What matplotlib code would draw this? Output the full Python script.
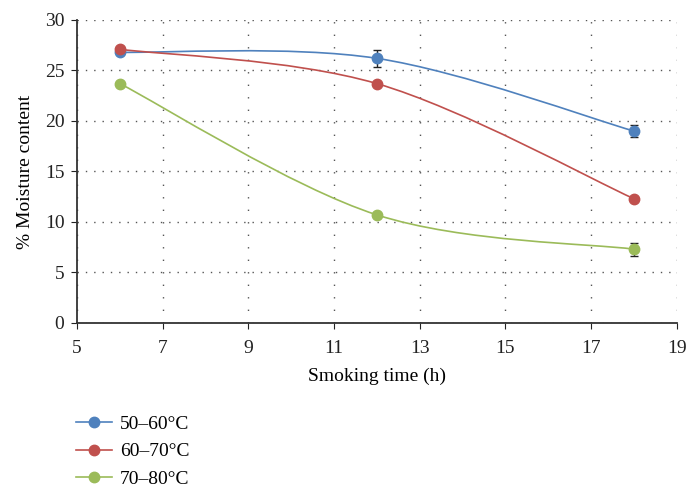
import numpy as np
import matplotlib.pyplot as plt
from matplotlib.path import Path
from matplotlib.patches import PathPatch
from matplotlib.lines import Line2D

plt.rcParams['font.family'] = ['Liberation Serif', 'DejaVu Serif']

hours = [6, 12, 18]
labels = ["50\u201360\u00b0C", "60\u201370\u00b0C", "70\u201380\u00b0C"]
colors = ["#4F81BD", "#C0504D", "#9BBB59"]
moisture = [
    [26.8, 26.2, 19.0],
    [27.1, 23.7, 12.3],
    [23.7, 10.7, 7.3],
]
errors = [
    [0.0, 0.85, 0.55],
    [0.0, 0.0, 0.0],
    [0.0, 0.0, 0.65],
]


def smooth_path(x, y):
    # Excel-like smoothed line (Catmull-Rom as cubic Bezier segments)
    pts = np.column_stack([x, y]).astype(float)
    ext = np.vstack([pts[0], pts, pts[-1]])
    verts = [pts[0]]
    codes = [Path.MOVETO]
    for i in range(len(pts) - 1):
        p0, p1, p2, p3 = ext[i], ext[i + 1], ext[i + 2], ext[i + 3]
        c1 = p1 + (p2 - p0) / 6
        c2 = p2 - (p3 - p1) / 6
        verts += [c1, c2, p2]
        codes += [Path.CURVE4] * 3
    return Path(verts, codes)


fig = plt.figure(figsize=(6.87, 4.87), dpi=100)
ax = fig.add_axes([0.112, 0.337, 0.873, 0.622])

handles = []
for vals, err, col, lab in zip(moisture, errors, colors, labels):
    ax.add_patch(PathPatch(smooth_path(hours, vals), facecolor="none",
                           edgecolor=col, lw=1.2, zorder=2))
    ax.errorbar(hours, vals, yerr=err, fmt="none", ecolor="#222222",
                elinewidth=1, capsize=3, capthick=1, zorder=3)
    ax.plot(hours, vals, "o", color=col, ms=7.5, zorder=4)
    handles.append(Line2D([], [], color=col, lw=1.2, marker="o", ms=7.5))

ax.set_xlim(5, 19)
ax.set_ylim(0, 30)
ax.set_xticks(range(5, 20, 2))
ax.set_yticks(range(0, 31, 5))
ax.yaxis.grid(True, linestyle=(0, (1, 5)), color="#555555", lw=1)
ax.xaxis.grid(True, linestyle=(0, (1, 8)), color="#555555", lw=1)
for s in ["top", "right"]:
    ax.spines[s].set_visible(False)
for s in ["left", "bottom"]:
    ax.spines[s].set_color("#333333")
    ax.spines[s].set_linewidth(1.3)
ax.tick_params(labelsize=14, colors="#222222", length=4)
ax.tick_params(axis="x", pad=8)
ax.tick_params(axis="y", pad=5)
ax.set_xlabel("Smoking time (h)", fontsize=14, labelpad=8)
ax.set_ylabel("% Moisture content", fontsize=14, labelpad=8)

fig.legend(handles, labels, loc="upper left", bbox_to_anchor=(0.1, 0.163),
           frameon=False, fontsize=14, handlelength=1.85, handletextpad=0.4,
           labelspacing=0.5, borderaxespad=0)

fig.savefig("out.png", dpi=100)
